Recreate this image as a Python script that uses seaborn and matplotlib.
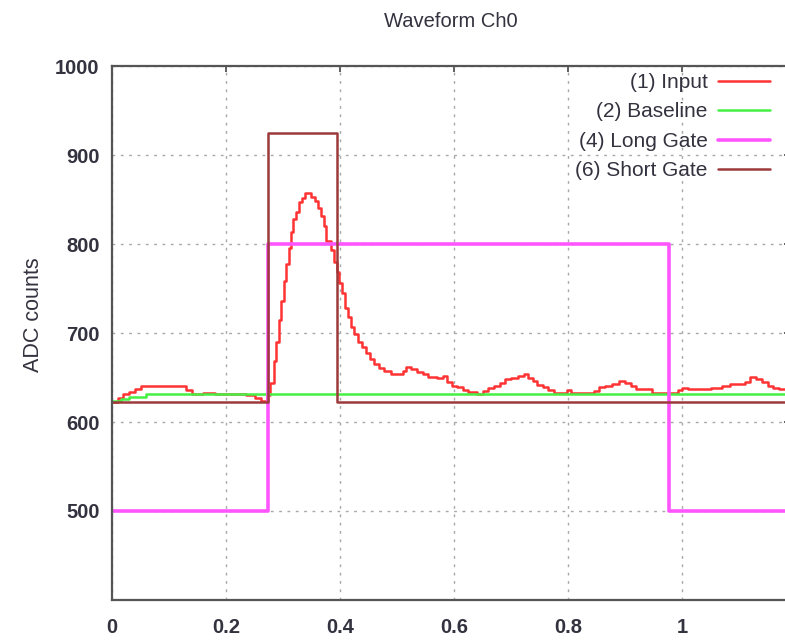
import matplotlib
matplotlib.use("Agg")
import matplotlib.pyplot as plt
import seaborn as sns
import pandas as pd

# Sampled input waveform (time in us, ADC counts), drawn as a step trace
input_t = [0.000, 0.010, 0.020, 0.030, 0.040, 0.050, 0.060, 0.070, 0.080, 0.090,
           0.100, 0.110, 0.120, 0.130, 0.140, 0.160, 0.180, 0.200, 0.220, 0.235,
           0.250, 0.262, 0.272, 0.277, 0.284, 0.288, 0.293, 0.297, 0.302, 0.305,
           0.311, 0.314, 0.318, 0.322, 0.328, 0.334, 0.339, 0.349, 0.356, 0.361,
           0.367, 0.372, 0.376, 0.384, 0.389, 0.394, 0.398, 0.403, 0.409, 0.414,
           0.419, 0.425, 0.432, 0.438, 0.445, 0.452, 0.460, 0.468, 0.478, 0.490,
           0.510, 0.515, 0.525, 0.535, 0.545, 0.555, 0.570, 0.580, 0.588, 0.596,
           0.605, 0.615, 0.625, 0.640, 0.650, 0.660, 0.670, 0.680, 0.690, 0.700,
           0.712, 0.722, 0.730, 0.738, 0.746, 0.756, 0.765, 0.775, 0.790, 0.798,
           0.805, 0.830, 0.845, 0.855, 0.865, 0.878, 0.890, 0.900, 0.910, 0.920,
           0.935, 0.948, 0.985, 0.993, 1.000, 1.010, 1.050, 1.070, 1.085, 1.110,
           1.120, 1.130, 1.140, 1.150, 1.160, 1.170, 1.185, 1.210]
input_v = [623, 627, 631, 634, 637, 640, 640, 641, 640, 640,
           640, 641, 641, 636, 632, 633, 632, 632, 632, 630,
           627, 624, 630, 644, 668, 690, 715, 736, 758, 777,
           795, 813, 828, 836, 847, 852, 857, 853, 848, 841,
           831, 820, 803, 793, 780, 768, 756, 745, 728, 718,
           707, 699, 690, 684, 678, 671, 665, 661, 657, 654,
           657, 662, 660, 656, 654, 651, 650, 652, 645, 641,
           639, 636, 634, 632, 635, 638, 641, 644, 648, 650,
           652, 654, 650, 646, 642, 639, 636, 633, 633, 636,
           633, 633, 635, 639, 641, 643, 646, 644, 641, 637,
           637, 633, 633, 636, 638, 637, 638, 640, 643, 645,
           651, 648, 645, 641, 638, 637, 640, 640]

# Baseline estimate
baseline_t = [0.000, 0.015, 0.030, 0.060, 1.210]
baseline_v = [624, 626, 628, 631, 631]

# Integration gates (step levels)
long_gate_t = [0.000, 0.274, 0.977, 1.210]
long_gate_v = [500, 800, 500, 500]
short_gate_t = [0.000, 0.274, 0.395, 1.210]
short_gate_v = [622, 925, 622, 622]

series_names = ["(1) Input", "(2) Baseline", "(4) Long Gate", "(6) Short Gate"]
series_colors = ["#ff3333", "#44f044", "#ff55ff", "#9c3a3a"]
series_widths = [1.8, 1.8, 2.6, 1.8]

x_ticks = [0, 0.2, 0.4, 0.6, 0.8, 1.0]
x_tick_labels = ["0", "0.2", "0.4", "0.6", "0.8", "1"]
y_ticks = [500, 600, 700, 800, 900, 1000]
y_tick_labels = ["500", "600", "700", "800", "900", "1000"]

sns.set_theme(style="white")
plt.rcParams["font.family"] = ["Liberation Sans", "DejaVu Sans"]
text_color = "#33323f"

fig = plt.figure(figsize=(7.85, 6.41), dpi=100)
ax = fig.add_axes([112 / 785, 41 / 641, 678 / 785, 534 / 641])

frames = [
    pd.DataFrame({"t": input_t, "v": input_v}),
    pd.DataFrame({"t": baseline_t, "v": baseline_v}),
    pd.DataFrame({"t": long_gate_t, "v": long_gate_v}),
    pd.DataFrame({"t": short_gate_t, "v": short_gate_v}),
]
for df, name, color, lw in zip(frames, series_names, series_colors, series_widths):
    sns.lineplot(data=df, x="t", y="v", ax=ax, color=color, linewidth=lw,
                 drawstyle="steps-post", estimator=None, sort=False,
                 label=name)

ax.set_xlim(0, 678 / 570)
ax.set_ylim(400, 1000)
ax.set_xticks(x_ticks)
ax.set_xticklabels(x_tick_labels)
ax.set_yticks(y_ticks)
ax.set_yticklabels(y_tick_labels)

ax.grid(True, color="#a8a8a8", linestyle=(0, (2, 4)), linewidth=1.0)
ax.set_axisbelow(True)
for side, sp in ax.spines.items():
    sp.set_color("#555555")
    sp.set_linewidth(1.6)
ax.tick_params(axis="both", direction="in", length=4, width=1.2, color="#444444",
               labelsize=14.5, labelcolor=text_color, top=True, right=True)
ax.tick_params(axis="x", pad=13)
ax.tick_params(axis="y", pad=9)
for lab in ax.get_xticklabels() + ax.get_yticklabels():
    lab.set_fontweight("bold")

ax.set_xlabel("")
ax.set_ylabel("ADC counts", fontsize=15.5, color=text_color)
ax.yaxis.set_label_coords(-0.1, 0.535)
ax.set_title("Waveform Ch0", fontsize=14.5, color=text_color, pad=28)

leg = ax.legend(loc="upper right", bbox_to_anchor=(770 / 785, 1 - 73 / 641),
                bbox_transform=fig.transFigure, frameon=False, markerfirst=False,
                fontsize=15, handlelength=2.5, handletextpad=0.5,
                labelspacing=0.5, borderpad=0, borderaxespad=0)
for txt in leg.get_texts():
    txt.set_color(text_color)

fig.savefig("out.png", dpi=100)
